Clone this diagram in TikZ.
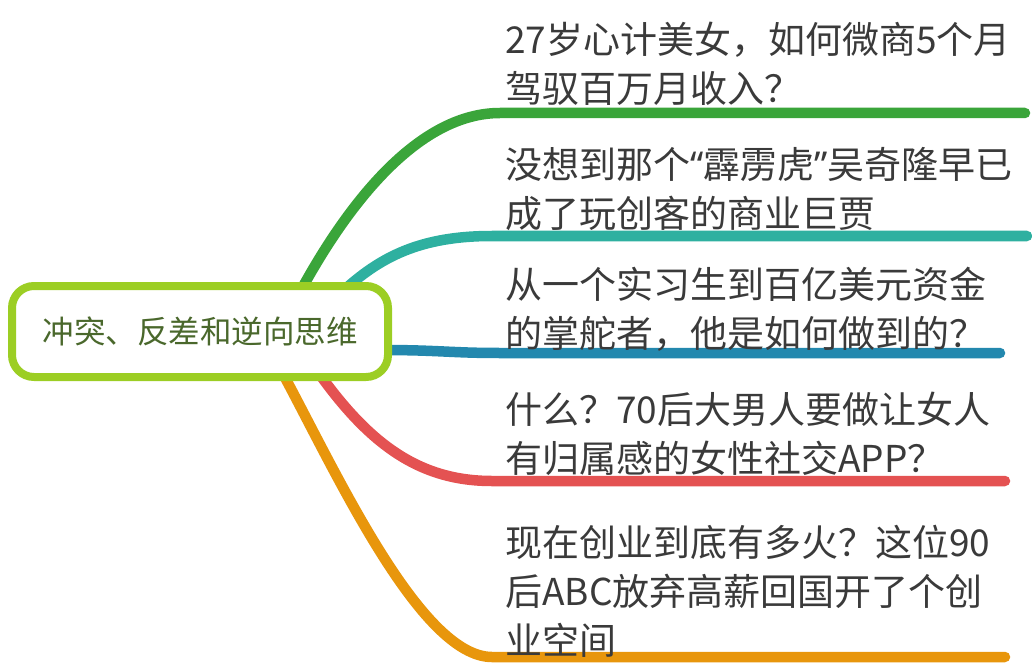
\documentclass[tikz,border=0pt]{standalone}
\usepackage{fontspec}
\setmainfont{Noto Sans CJK SC}
\newfontfamily\latinq{Noto Sans}
\definecolor{rootc}{RGB}{156,206,36}
\definecolor{roottxt}{RGB}{74,104,44}
\definecolor{txt}{RGB}{58,58,58}
\definecolor{cgreen}{RGB}{58,165,58}
\definecolor{cteal}{RGB}{46,176,160}
\definecolor{cblue}{RGB}{35,136,174}
\definecolor{cred}{RGB}{228,82,82}
\definecolor{corange}{RGB}{232,150,12}
\begin{document}
\begin{tikzpicture}[x=1pt,y=-1pt,
  branch/.style={line width=10.5pt, line cap=round},
  leaf/.style={anchor=south west, inner sep=0pt, align=left, text=txt, font=\fontsize{37}{49}\selectfont},
  rootbox/.style={draw=rootc, line width=8pt, rounded corners=22pt, fill=white, minimum width=376pt, minimum height=91pt, text=roottxt, inner sep=0pt, font=\fontsize{31.5}{36}\selectfont}]
\useasboundingbox (0,0) rectangle (1032,668);
% coordinates
\coordinate (gs) at (300,292);
\coordinate (gm) at (500,113);
\coordinate (ge) at (1025,113);
\coordinate (ts) at (342,292);
\coordinate (tm) at (492,236);
\coordinate (te) at (1027,236);
\coordinate (bs) at (380,350);
\coordinate (bm) at (500,353);
\coordinate (be) at (1000,353);
\coordinate (rs) at (318,372);
\coordinate (rm) at (492,481);
\coordinate (re) at (1005,481);
\coordinate (os) at (282,372);
\coordinate (om) at (492,657);
\coordinate (oe) at (1005,657);
% branches
\draw[branch, cgreen] (gs) .. controls (350,200) and (420,113) .. (gm) -- (ge);
\draw[branch, cteal] (ts) .. controls (380,257) and (420,236) .. (tm) -- (te);
\draw[branch, cblue] (bs) .. controls (440,350) and (450,353) .. (bm) -- (be);
\draw[branch, cred] (rs) .. controls (370,445) and (420,481) .. (rm) -- (re);
\draw[branch, corange] (os) .. controls (335,470) and (420,657) .. (om) -- (oe);
% root
\node[rootbox] (root) at (200,331.5) {冲突、反差和逆向思维};
% leaves
\node[leaf] (l1) at (505,106) {27岁心计美女，如何微商5个月\\驾驭百万月收入？};
\node[leaf] (l2) at (505,231) {没想到那个{\latinq“}霹雳虎{\latinq”}吴奇隆早已\\成了玩创客的商业巨贾};
\node[leaf] (l3) at (505,352) {从一个实习生到百亿美元资金\\的掌舵者，他是如何做到的？};
\node[leaf] (l4) at (505,476) {什么？70后大男人要做让女人\\有归属感的女性社交APP？};
\node[leaf] (l5) at (505,658) {现在创业到底有多火？这位90\\后ABC放弃高薪回国开了个创\\业空间};
\end{tikzpicture}
\end{document}
